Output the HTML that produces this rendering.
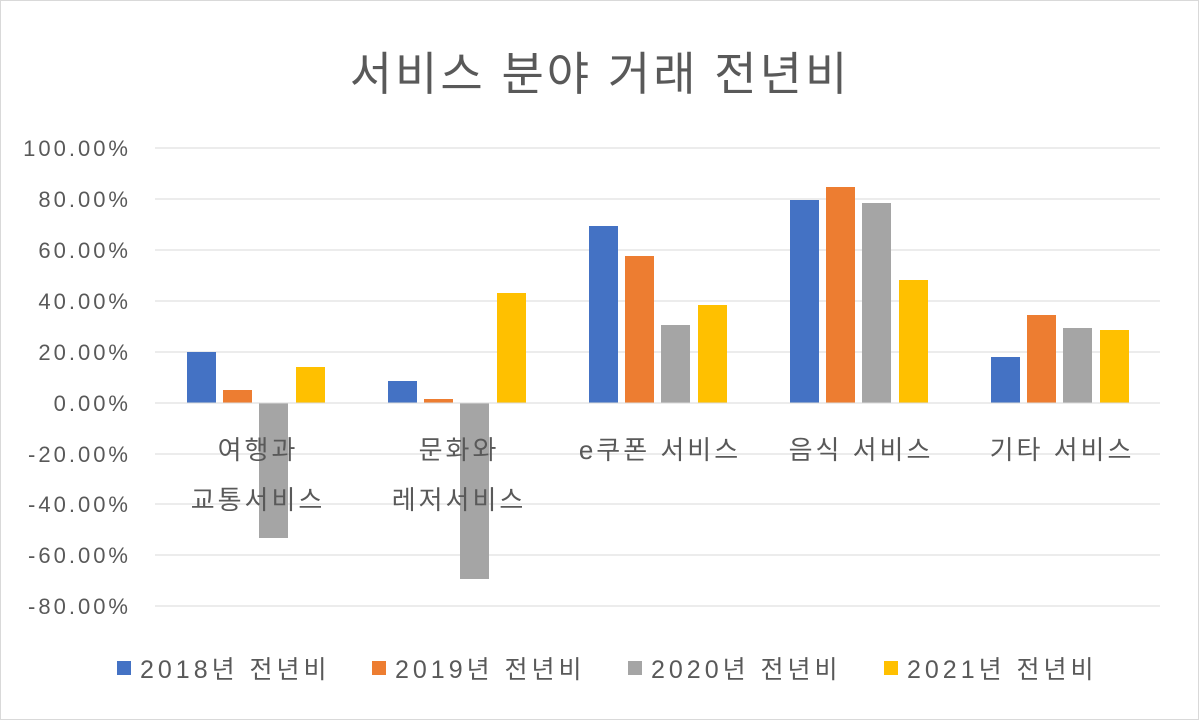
<!DOCTYPE html>
<html><head><meta charset="utf-8"><style>
html,body{margin:0;padding:0;background:#fff;}
svg{display:block;font-family:"Liberation Sans","Noto Sans CJK KR",sans-serif;}
</style></head><body>
<svg width="1199" height="720" viewBox="0 0 1199 720">
<rect x="0.5" y="0.5" width="1198" height="719" fill="#fff" stroke="#d9d9d9"/>
<text x="600" y="90" font-size="46" letter-spacing="3" fill="#595959" text-anchor="middle">서비스 분야 거래 전년비</text>
<g stroke="#d9d9d9" stroke-width="1">
<line x1="155" x2="1160" y1="148" y2="148"/><line x1="155" x2="1160" y1="199" y2="199"/>
<line x1="155" x2="1160" y1="250" y2="250"/><line x1="155" x2="1160" y1="301" y2="301"/>
<line x1="155" x2="1160" y1="352" y2="352"/><line x1="155" x2="1160" y1="454" y2="454"/>
<line x1="155" x2="1160" y1="504" y2="504"/><line x1="155" x2="1160" y1="555" y2="555"/>
<line x1="155" x2="1160" y1="606" y2="606"/>
</g>
<g font-size="22" letter-spacing="3" fill="#595959" text-anchor="end">
<text x="131" y="156">100.00%</text><text x="131" y="207">80.00%</text>
<text x="131" y="258">60.00%</text><text x="131" y="309">40.00%</text>
<text x="131" y="360">20.00%</text><text x="131" y="411">0.00%</text>
<text x="131" y="462">-20.00%</text><text x="131" y="512">-40.00%</text>
<text x="131" y="563">-60.00%</text><text x="131" y="614">-80.00%</text>
</g>
<g>
<rect x="187" y="352" width="29" height="51" fill="#4472c4"/>
<rect x="223" y="390" width="29" height="13" fill="#ed7d31"/>
<rect x="259" y="403" width="29" height="135" fill="#a5a5a5"/>
<rect x="296" y="367" width="29" height="36" fill="#ffc000"/>
<rect x="388" y="381" width="29" height="22" fill="#4472c4"/>
<rect x="424" y="399" width="29" height="4" fill="#ed7d31"/>
<rect x="460" y="403" width="29" height="176" fill="#a5a5a5"/>
<rect x="497" y="293" width="29" height="110" fill="#ffc000"/>
<rect x="589" y="226" width="29" height="177" fill="#4472c4"/>
<rect x="625" y="256" width="29" height="147" fill="#ed7d31"/>
<rect x="661" y="325" width="29" height="78" fill="#a5a5a5"/>
<rect x="698" y="305" width="29" height="98" fill="#ffc000"/>
<rect x="790" y="200" width="29" height="203" fill="#4472c4"/>
<rect x="826" y="187" width="29" height="216" fill="#ed7d31"/>
<rect x="862" y="203" width="29" height="200" fill="#a5a5a5"/>
<rect x="899" y="280" width="29" height="123" fill="#ffc000"/>
<rect x="991" y="357" width="29" height="46" fill="#4472c4"/>
<rect x="1027" y="315" width="29" height="88" fill="#ed7d31"/>
<rect x="1063" y="328" width="29" height="75" fill="#a5a5a5"/>
<rect x="1100" y="330" width="29" height="73" fill="#ffc000"/>
</g>
<line x1="155" x2="1160" y1="403" y2="403" stroke="#d9d9d9"/>
<g font-size="26" letter-spacing="3" fill="#595959" text-anchor="middle">
<text x="258" y="459">여행과</text><text x="258" y="509">교통서비스</text>
<text x="459" y="459">문화와</text><text x="459" y="509">레저서비스</text>
<text x="660" y="459">e쿠폰 서비스</text>
<text x="861" y="459">음식 서비스</text>
<text x="1062" y="459">기타 서비스</text>
</g>
<g font-size="25" letter-spacing="4" fill="#595959">
<rect x="117" y="661" width="14" height="14" fill="#4472c4"/><text x="140" y="678">2018년 전년비</text>
<rect x="372" y="661" width="14" height="14" fill="#ed7d31"/><text x="395" y="678">2019년 전년비</text>
<rect x="628" y="661" width="14" height="14" fill="#a5a5a5"/><text x="651" y="678">2020년 전년비</text>
<rect x="884" y="661" width="14" height="14" fill="#ffc000"/><text x="907" y="678">2021년 전년비</text>
</g>
</svg>
</body></html>
